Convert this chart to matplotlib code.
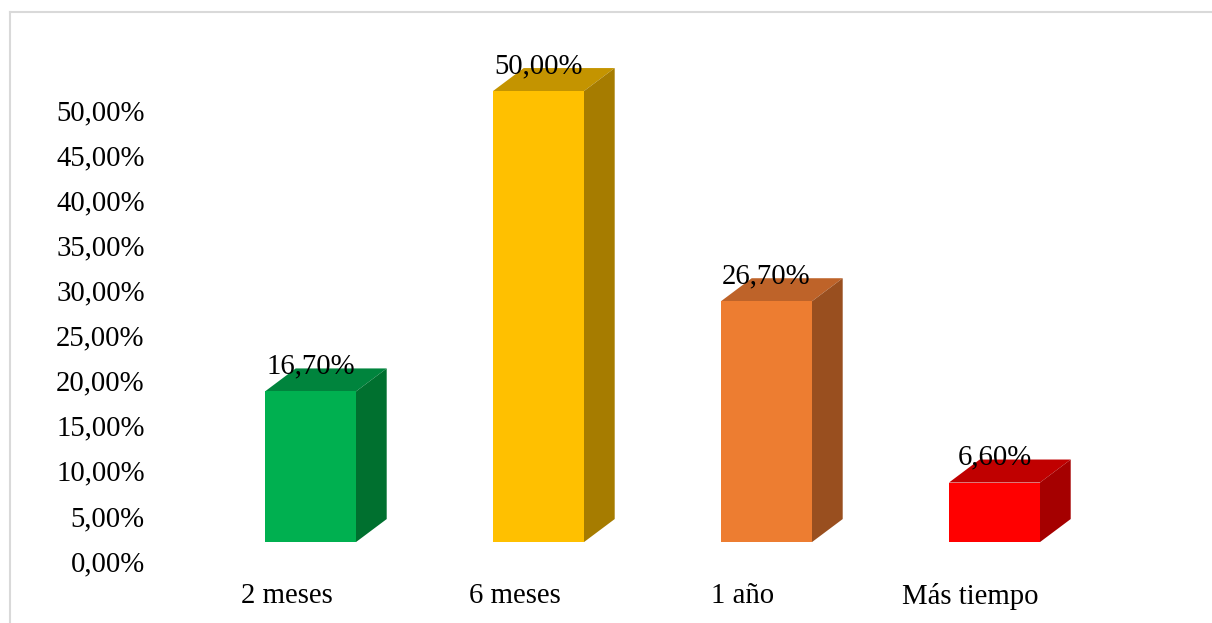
import numpy as np
import matplotlib.pyplot as plt
from matplotlib.patches import Polygon
from matplotlib.lines import Line2D

categories = ["2 meses", "6 meses", "1 año", "Más tiempo"]
values = [16.7, 50.0, 26.7, 6.6]
value_labels = ["16,70%", "50,00%", "26,70%", "6,60%"]
yticks = np.arange(0, 55, 5)

front_colors = ["#00B050", "#FFC000", "#ED7D31", "#FF0000"]
top_colors = ["#00843D", "#C49400", "#BE6329", "#C00000"]
side_colors = ["#00702F", "#A67C00", "#994F1F", "#A50000"]

plt.rcParams["font.family"] = ["Liberation Serif", "DejaVu Serif"]
FS = 20.7

W, H = 1212, 623
fig = plt.figure(figsize=(W / 100, H / 100), dpi=100)

# axes placed in pixel terms: value 0 at y=561, 1 category = 228 px
ax_l, ax_r, ax_b, ax_t = 160, 1180, 561, 30
ax = fig.add_axes([ax_l / W, (H - ax_b) / H, (ax_r - ax_l) / W, (ax_b - ax_t) / H])
px_y = 9.02
px_x = 228.0
x0 = (ax_l - 310.5) / px_x
ax.set_xlim(x0, x0 + (ax_r - ax_l) / px_x)
ax.set_ylim(0, (ax_b - ax_t) / px_y)

# 3d look
half_w = 45.5 / px_x
dx = 30.7 / px_x
dy = 23.0 / px_y
base = 2.1

for i, v in enumerate(values):
    xl, xr = i - half_w, i + half_w
    yb, yt = base, base + v
    ax.add_patch(Polygon([(xl, yb), (xr, yb), (xr, yt), (xl, yt)],
                         closed=True, fc=front_colors[i], ec="none", zorder=3))
    ax.add_patch(Polygon([(xl, yt), (xr, yt), (xr + dx, yt + dy), (xl + dx, yt + dy)],
                         closed=True, fc=top_colors[i], ec="none", zorder=2))
    ax.add_patch(Polygon([(xr, yb), (xr + dx, yb + dy), (xr + dx, yt + dy), (xr, yt)],
                         closed=True, fc=side_colors[i], ec="none", zorder=2))
    ax.text(i, yt + 18 / px_y, value_labels[i], ha="center", va="baseline",
            fontsize=FS, color="black", zorder=5)

ax.set_yticks(yticks)
ax.set_yticklabels([f"{t:.2f}".replace(".", ",") + "%" for t in yticks], fontsize=FS)
ax.set_xticks(np.arange(len(categories)) - 24 / px_x)
ax.set_xticklabels(categories, fontsize=FS)
ax.tick_params(axis="y", length=0, pad=11)
ax.tick_params(axis="x", length=0, pad=16)
for s in ax.spines.values():
    s.set_visible(False)

# light chart border
fig.add_artist(Line2D([10 / W, 10 / W], [0, 1 - 12 / H], color="#D9D9D9", lw=1.5))
fig.add_artist(Line2D([10 / W, 1], [1 - 12 / H, 1 - 12 / H], color="#D9D9D9", lw=1.5))

fig.savefig("out.png", dpi=100)
